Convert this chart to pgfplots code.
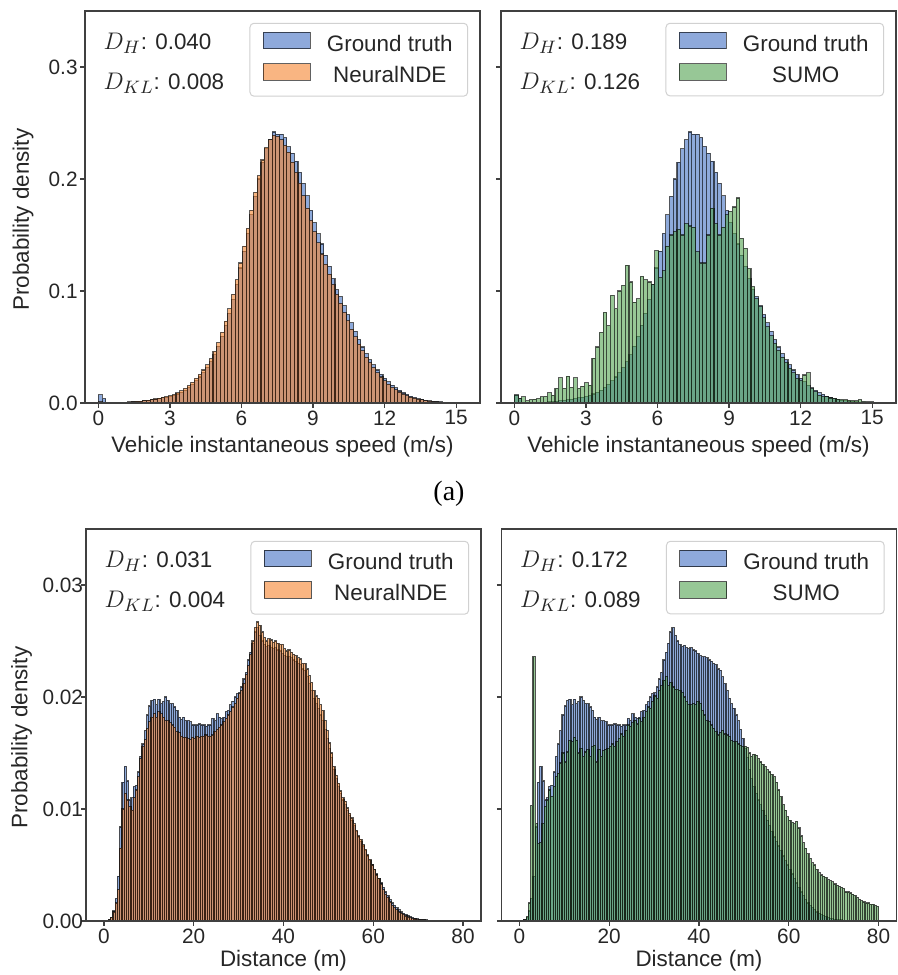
\documentclass[border=0pt]{standalone}
\usepackage{pgfplots}
\pgfplotsset{compat=1.18}
\usepackage{pgfplotstable}
\usepackage{fontspec}
\setmainfont{Liberation Sans}
\newfontfamily\timesfont{Liberation Serif}

\definecolor{cblue}{HTML}{4371C3}
\definecolor{corange}{HTML}{F5852F}
\definecolor{cgreen}{HTML}{53A350}
\definecolor{txt}{HTML}{262626}

% speed histograms: left bin edge, ground truth, NeuralNDE, SUMO
\pgfplotstableread{
x gt nde sumo
0.000 0.0072 0.0012 0.0070
0.155 0.0040 0.0008 0.0040
0.310 0.0005 0.0004 0.0055
0.465 0.0004 0.0004 0.0020
0.620 0.0004 0.0005 0.0030
0.775 0.0005 0.0005 0.0035
0.930 0.0005 0.0006 0.0040
1.085 0.0006 0.0007 0.0055
1.240 0.0008 0.0009 0.0060
1.395 0.0010 0.0011 0.0090
1.550 0.0013 0.0014 0.0070
1.705 0.0016 0.0017 0.0130
1.860 0.0022 0.0021 0.0225
2.015 0.0026 0.0025 0.0130
2.170 0.0030 0.0030 0.0240
2.325 0.0035 0.0036 0.0140
2.480 0.0040 0.0043 0.0225
2.635 0.0046 0.0050 0.0130
2.790 0.0052 0.0057 0.0150
2.945 0.0058 0.0063 0.0180
3.100 0.0068 0.0075 0.0160
3.255 0.0080 0.0090 0.0400
3.410 0.0095 0.0108 0.0500
3.565 0.0115 0.0130 0.0630
3.720 0.0138 0.0155 0.0810
3.875 0.0165 0.0185 0.0690
4.030 0.0198 0.0220 0.0960
4.185 0.0232 0.0255 0.0840
4.340 0.0270 0.0295 0.1000
4.495 0.0315 0.0340 0.1050
4.650 0.0368 0.0395 0.1230
4.805 0.0430 0.0460 0.1080
4.960 0.0505 0.0540 0.0900
5.115 0.0595 0.0630 0.0930
5.270 0.0695 0.0730 0.1130
5.425 0.0800 0.0840 0.1100
5.580 0.0925 0.0970 0.1080
5.735 0.1060 0.1100 0.1060
5.890 0.1205 0.1250 0.1360
6.045 0.1355 0.1400 0.1120
6.200 0.1515 0.1560 0.1180
6.355 0.1680 0.1720 0.1400
6.510 0.1845 0.1880 0.1500
6.665 0.2000 0.2030 0.1530
6.820 0.2150 0.2170 0.1550
6.975 0.2270 0.2280 0.1500
7.130 0.2350 0.2350 0.1600
7.285 0.2420 0.2390 0.1580
7.440 0.2400 0.2380 0.1570
7.595 0.2400 0.2350 0.1350
7.750 0.2370 0.2300 0.1250
7.905 0.2290 0.2240 0.1250
8.060 0.2230 0.2150 0.1500
8.215 0.2160 0.2060 0.1740
8.370 0.2060 0.1960 0.1600
8.525 0.1960 0.1850 0.1500
8.680 0.1850 0.1740 0.1570
8.835 0.1720 0.1630 0.1680
8.990 0.1610 0.1530 0.1710
9.145 0.1510 0.1430 0.1750
9.300 0.1420 0.1330 0.1830
9.455 0.1320 0.1240 0.1470
9.610 0.1220 0.1150 0.1380
9.765 0.1110 0.1060 0.1200
9.920 0.1010 0.0970 0.1040
10.075 0.0950 0.0890 0.0930
10.230 0.0870 0.0810 0.0860
10.385 0.0790 0.0735 0.0760
10.540 0.0715 0.0660 0.0680
10.695 0.0640 0.0590 0.0600
10.850 0.0565 0.0525 0.0530
11.005 0.0500 0.0465 0.0470
11.160 0.0440 0.0410 0.0410
11.315 0.0385 0.0360 0.0360
11.470 0.0340 0.0315 0.0310
11.625 0.0295 0.0270 0.0270
11.780 0.0255 0.0232 0.0220
11.935 0.0220 0.0198 0.0200
12.090 0.0188 0.0168 0.0250
12.245 0.0160 0.0140 0.0270
12.400 0.0135 0.0118 0.0130
12.555 0.0112 0.0098 0.0100
12.710 0.0093 0.0080 0.0070
12.865 0.0076 0.0065 0.0060
13.020 0.0062 0.0053 0.0055
13.175 0.0050 0.0043 0.0045
13.330 0.0040 0.0035 0.0040
13.485 0.0032 0.0028 0.0035
13.640 0.0025 0.0022 0.0030
13.795 0.0020 0.0017 0.0028
13.950 0.0016 0.0013 0.0025
14.105 0.0013 0.0010 0.0022
14.260 0.0010 0.0008 0.0020
14.415 0.0008 0.0006 0.0030
14.570 0.0006 0.0005 0.0014
14.725 0.0005 0.0004 0.0011
14.880 0.0004 0.0003 0.0009
15.035 0.0003 0.0002 0.0007
15.190 0.0002 0.0002 0.0005
15.345 0.0002 0.0001 0.0003
15.500 0 0 0
}\speed

% distance histograms: left bin edge, ground truth, NeuralNDE, SUMO
\pgfplotstableread{
x gt nde sumo
0.0 0 0 0
0.5 0 0 0
1.0 0.0001 0.0001 0.0001
1.5 0.0003 0.0003 0.0004
2.0 0.0009 0.0008 0.0016
2.5 0.0020 0.0016 0.0103
3.0 0.0040 0.0028 0.0236
3.5 0.0084 0.0065 0.0087
4.0 0.0124 0.0100 0.0069
4.5 0.0138 0.0114 0.0070
5.0 0.0125 0.0108 0.0087
5.5 0.0108 0.0102 0.0102
6.0 0.0110 0.0099 0.0108
6.5 0.0120 0.0110 0.0117
7.0 0.0121 0.0117 0.0111
7.5 0.0133 0.0129 0.0120
8.0 0.0147 0.0145 0.0129
8.5 0.0158 0.0156 0.0132
9.0 0.0170 0.0162 0.0141
9.5 0.0184 0.0172 0.0150
10.0 0.0192 0.0178 0.0142
10.5 0.0197 0.0182 0.0151
11.0 0.0198 0.0185 0.0161
11.5 0.0193 0.0182 0.0160
12.0 0.0198 0.0187 0.0164
12.5 0.0194 0.0185 0.0161
13.0 0.0196 0.0182 0.0150
13.5 0.0200 0.0179 0.0154
14.0 0.0197 0.0179 0.0147
14.5 0.0194 0.0177 0.0151
15.0 0.0194 0.0175 0.0153
15.5 0.0191 0.0173 0.0147
16.0 0.0188 0.0169 0.0156
16.5 0.0182 0.0168 0.0157
17.0 0.0180 0.0165 0.0142
17.5 0.0182 0.0164 0.0153
18.0 0.0179 0.0164 0.0147
18.5 0.0179 0.0163 0.0152
19.0 0.0178 0.0162 0.0153
19.5 0.0175 0.0164 0.0154
20.0 0.0175 0.0163 0.0156
20.5 0.0175 0.0165 0.0158
21.0 0.0176 0.0164 0.0156
21.5 0.0175 0.0165 0.0160
22.0 0.0175 0.0165 0.0163
22.5 0.0174 0.0166 0.0167
23.0 0.0175 0.0165 0.0165
23.5 0.0175 0.0165 0.0170
24.0 0.0181 0.0166 0.0175
24.5 0.0179 0.0169 0.0174
25.0 0.0185 0.0171 0.0177
25.5 0.0182 0.0173 0.0179
26.0 0.0181 0.0175 0.0176
26.5 0.0182 0.0178 0.0181
27.0 0.0187 0.0181 0.0178
27.5 0.0188 0.0184 0.0182
28.0 0.0193 0.0187 0.0187
28.5 0.0196 0.0191 0.0191
29.0 0.0200 0.0194 0.0190
29.5 0.0203 0.0199 0.0196
30.0 0.0204 0.0203 0.0201
30.5 0.0209 0.0206 0.0199
31.0 0.0216 0.0212 0.0206
31.5 0.0222 0.0220 0.0210
32.0 0.0233 0.0228 0.0215
32.5 0.0240 0.0238 0.0218
33.0 0.0248 0.0250 0.0210
33.5 0.0258 0.0262 0.0213
34.0 0.0262 0.0267 0.0209
34.5 0.0255 0.0264 0.0207
35.0 0.0250 0.0258 0.0207
35.5 0.0247 0.0253 0.0206
36.0 0.0245 0.0250 0.0204
36.5 0.0246 0.0252 0.0200
37.0 0.0244 0.0251 0.0196
37.5 0.0243 0.0249 0.0193
38.0 0.0244 0.0250 0.0193
38.5 0.0242 0.0248 0.0194
39.0 0.0241 0.0247 0.0193
39.5 0.0239 0.0247 0.0196
40.0 0.0237 0.0243 0.0194
40.5 0.0236 0.0241 0.0188
41.0 0.0236 0.0242 0.0184
41.5 0.0235 0.0240 0.0179
42.0 0.0233 0.0238 0.0178
42.5 0.0232 0.0237 0.0175
43.0 0.0230 0.0235 0.0172
43.5 0.0229 0.0234 0.0169
44.0 0.0225 0.0230 0.0166
44.5 0.0224 0.0230 0.0168
45.0 0.0218 0.0225 0.0170
45.5 0.0212 0.0219 0.0167
46.0 0.0206 0.0213 0.0166
46.5 0.0199 0.0206 0.0165
47.0 0.0194 0.0201 0.0161
47.5 0.0190 0.0199 0.0160
48.0 0.0184 0.0193 0.0160
48.5 0.0179 0.0188 0.0158
49.0 0.0171 0.0179 0.0157
49.5 0.0163 0.0170 0.0156
50.0 0.0154 0.0159 0.0156
50.5 0.0146 0.0150 0.0155
51.0 0.0135 0.0138 0.0150
51.5 0.0127 0.0130 0.0147
52.0 0.0120 0.0123 0.0149
52.5 0.0114 0.0116 0.0148
53.0 0.0108 0.0110 0.0145
53.5 0.0104 0.0107 0.0142
54.0 0.0099 0.0101 0.0140
54.5 0.0094 0.0096 0.0138
55.0 0.0090 0.0092 0.0135
55.5 0.0085 0.0087 0.0133
56.0 0.0080 0.0081 0.0131
56.5 0.0075 0.0076 0.0129
57.0 0.0071 0.0073 0.0124
57.5 0.0067 0.0068 0.0117
58.0 0.0063 0.0064 0.0111
58.5 0.0058 0.0059 0.0104
59.0 0.0054 0.0055 0.0099
59.5 0.0050 0.0050 0.0093
60.0 0.0046 0.0046 0.0090
60.5 0.0042 0.0041 0.0088
61.0 0.0038 0.0038 0.0087
61.5 0.0034 0.0033 0.0089
62.0 0.0030 0.0028 0.0083
62.5 0.0026 0.0024 0.0076
63.0 0.0023 0.0021 0.0070
63.5 0.0019 0.0017 0.0065
64.0 0.0016 0.0014 0.0060
64.5 0.0014 0.0012 0.0056
65.0 0.0012 0.0010 0.0052
65.5 0.0010 0.0008 0.0050
66.0 0.0008 0.0007 0.0046
66.5 0.0007 0.0006 0.0043
67.0 0.0006 0.00045 0.0041
67.5 0.0005 0.00036 0.0040
68.0 0.0004 0.0003 0.0039
68.5 0.0003 0.00022 0.0037
69.0 0.00025 0.00018 0.0036
69.5 0.0002 0.00015 0.0035
70.0 0.00015 0.0001 0.0033
70.5 0.00012 0.0001 0.0032
71.0 0.0001 0.00008 0.0031
71.5 0.00008 0.00005 0.0030
72.0 0.00005 0.00003 0.0029
72.5 0.00003 0 0.0026
73.0 0 0 0.0026
73.5 0 0 0.0025
74.0 0 0 0.0024
74.5 0 0 0.0023
75.0 0 0 0.0021
75.5 0 0 0.0019
76.0 0 0 0.0018
76.5 0 0 0.0017
77.0 0 0 0.0016
77.5 0 0 0.0016
78.0 0 0 0.0015
78.5 0 0 0.0015
79.0 0 0 0.0014
79.5 0 0 0.0013
80.0 0 0 0
}\dist

\pgfplotsset{
  histax/.style={
    scale only axis, width=197.5pt, height=196pt,
    anchor=north west, axis on top,
    axis line style={black!75, line width=0.6pt},
    tick style={black!75, line width=0.6pt},
    tick align=outside, major tick length=2.3pt, tick pos=left,
    ymin=0, scaled y ticks=false,
    /pgf/number format/assume math mode=true,
    tick label style={font=\fontsize{10.4}{12}\selectfont, text=txt},
    xticklabel style={inner sep=0pt, yshift=-1.3pt},
    yticklabel style={inner sep=0pt, xshift=-1.2pt},
    label style={font=\fontsize{11.2}{13}\selectfont, text=txt},
    xlabel style={at={(axis description cs:0.5,-0.127)}, anchor=base},
    ylabel style={at={(axis description cs:-0.157,0.468)}, anchor=center},
    legend cell align=center,
    legend style={at={(0.97,0.97)}, anchor=north east,
      draw=black!18, line width=0.5pt, rounded corners=2pt, fill=white,
      inner xsep=6.5pt, inner ysep=4.3pt, row sep=3.6pt,
      font=\fontsize{11.2}{13}\selectfont, text=txt,
      nodes={inner sep=1pt},
      /tikz/every odd column/.append style={column sep=7pt}},
  },
  hist/.style={ybar interval, fill=#1, fill opacity=0.6,
    draw=black, draw opacity=0.62, line width=0.55pt,
    legend image code/.code={\draw[##1, line width=0.45pt, sharp corners] (0pt,-2.2pt) rectangle (23.5pt,6.1pt);}},
  speedax/.style={histax, xmin=-0.56, xmax=16.0, ymax=0.35,
    xtick={0,3,...,15}, ytick={0,0.1,0.2,0.3},
    yticklabel style={/pgf/number format/fixed, /pgf/number format/fixed zerofill,
      /pgf/number format/precision=1},
    xlabel={Vehicle instantaneous speed (m/s)}},
  distax/.style={histax, xmin=-4, xmax=84, ymax=0.035,
    xtick={0,20,...,80}, ytick={0,0.01,0.02,0.03},
    yticklabel style={/pgf/number format/fixed, /pgf/number format/fixed zerofill,
      /pgf/number format/precision=2},
    xlabel={Distance (m)},
    xlabel style={at={(axis description cs:0.5,-0.117)}}},
  dhist/.style={hist=#1, line width=0.62pt, draw opacity=0.66},
}

\newcommand{\scores}[2]{%
  \node[anchor=base west, inner sep=0pt, text=txt, font=\fontsize{11.2}{13}\selectfont]
    at (rel axis cs:0.046,0.902) {{\fontsize{12.5}{14}\selectfont$D_H$}: #1};
  \node[anchor=base west, inner sep=0pt, text=txt, font=\fontsize{11.2}{13}\selectfont]
    at (rel axis cs:0.046,0.801) {{\fontsize{12.5}{14}\selectfont$D_{KL}$}: #2};
}

\begin{document}
\begin{tikzpicture}
\useasboundingbox (0,0) rectangle (449pt,-487.5pt);

% (top left) speed, NeuralNDE
\begin{axis}[speedax, at={(42.5pt,-5.5pt)}, ylabel={Probability density}]
\addplot[hist=cblue] table[x=x, y=gt] {\speed};
\addlegendentry{Ground truth}
\addplot[hist=corange] table[x=x, y=nde] {\speed};
\addlegendentry{NeuralNDE}
\scores{0.040}{0.008}
\end{axis}

% (top right) speed, SUMO
\begin{axis}[speedax, at={(250.5pt,-5.5pt)}, yticklabels={}]
\addplot[hist=cblue] table[x=x, y=gt] {\speed};
\addlegendentry{Ground truth}
\addplot[hist=cgreen] table[x=x, y=sumo] {\speed};
\addlegendentry{SUMO}
\scores{0.189}{0.126}
\end{axis}

\node[font=\timesfont\fontsize{14}{16}\selectfont, text=black] at (224.5pt,-247pt) {(a)};

% (bottom left) distance, NeuralNDE
\begin{axis}[distax, at={(43pt,-264.5pt)}, ylabel={Probability density},
  ylabel style={at={(axis description cs:-0.163,0.468)}},
  yticklabel style={xshift=2.2pt}]
\addplot[dhist=cblue] table[x=x, y=gt] {\dist};
\addlegendentry{Ground truth}
\addplot[dhist=corange] table[x=x, y=nde] {\dist};
\addlegendentry{NeuralNDE}
\scores{0.031}{0.004}
\end{axis}

% (bottom right) distance, SUMO
\begin{axis}[distax, at={(250.75pt,-264.5pt)}, yticklabels={}]
\addplot[dhist=cblue] table[x=x, y=gt] {\dist};
\addlegendentry{Ground truth}
\addplot[dhist=cgreen] table[x=x, y=sumo] {\dist};
\addlegendentry{SUMO}
\scores{0.172}{0.089}
\end{axis}
\end{tikzpicture}
\end{document}
